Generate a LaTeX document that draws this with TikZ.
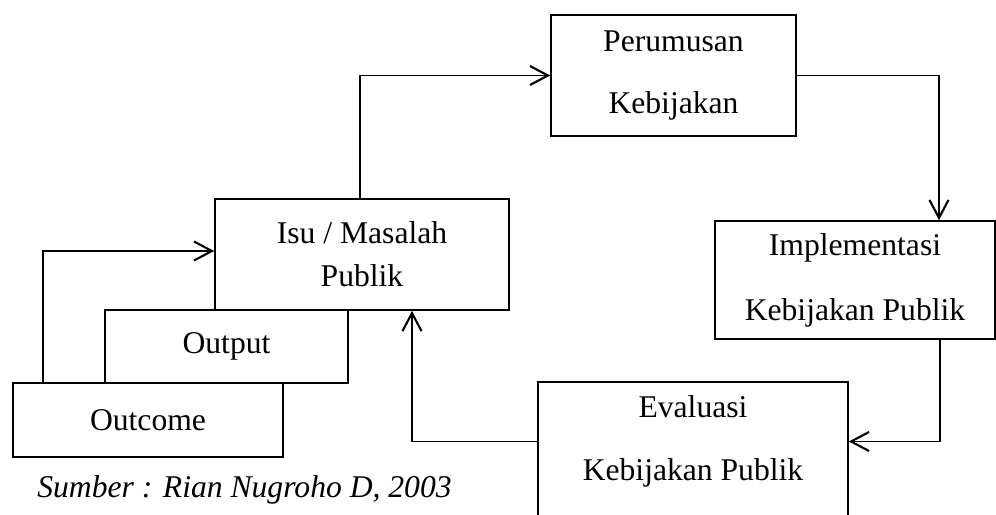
\documentclass[tikz,border=0pt]{standalone}
\usepackage{fontspec}
\setmainfont{Liberation Serif}
\usepackage{tikz}
\usetikzlibrary{arrows.meta,positioning}

\begin{document}
\begin{tikzpicture}[
          x=0.02cm, y=-0.02cm,
          box/.style={rectangle, draw, line width=0.9pt, align=center, inner sep=0pt,
                      font=\fontsize{18}{21}\selectfont},
          plain/.style={align=center, inner sep=0pt, font=\fontsize{18}{21}\selectfont},
          flow/.style={-{Straight Barb[length=3.6mm, width=3.8mm, line width=1.2pt]}, line width=1.1pt}
        ]
        \useasboundingbox (0,0) rectangle (996,514);

        % Nodes
        \node[box, minimum width=4.9cm, minimum height=2.42cm] (pr) at (673.5,75.5) {Perumusan\\[14pt]Kebijakan};
        \node[box, minimum width=5.6cm, minimum height=2.36cm] (impl) at (855,280) {Implementasi\\[16pt]Kebijakan Publik};
        \node[box, minimum width=5.88cm, minimum height=2.22cm] (isu) at (362,254.5) {Isu / Masalah\\[3.5pt]Publik};
        \node[box, minimum width=4.86cm, minimum height=1.46cm] (output) at (226.5,346.5) {Output};
        \node[box, minimum width=5.4cm, minimum height=1.48cm] (outcome) at (148,420) {Outcome};
        \node[box, minimum width=6.2cm, minimum height=2.8cm, anchor=north] (eval) at (693,381) {};
        \node[plain] (evaltext) at (693,441.5) {Evaluasi\\[15pt]Kebijakan Publik};
        \node[plain, anchor=west, font=\fontsize{18}{21}\selectfont\itshape] (src) at (37,490) {Sumber : Rian Nugroho D, 2003};

        % Edges round the cycle
        \draw[flow] ([xshift=-0.04cm]isu.north) |- (pr.west);
        \draw[flow] (pr.east) -| ([xshift=1.68cm]impl.north);
        \draw[flow] ([xshift=1.7cm]impl.south) |- (eval.east |- evaltext.center);
        \draw[flow] (eval.west |- evaltext.center) -| ([xshift=1cm]isu.south);

        % Edge from outcome back to the issue
        \draw[flow] ([xshift=-2.1cm]outcome.north) |- ([yshift=0.07cm]isu.west);

      \end{tikzpicture}
\end{document}
